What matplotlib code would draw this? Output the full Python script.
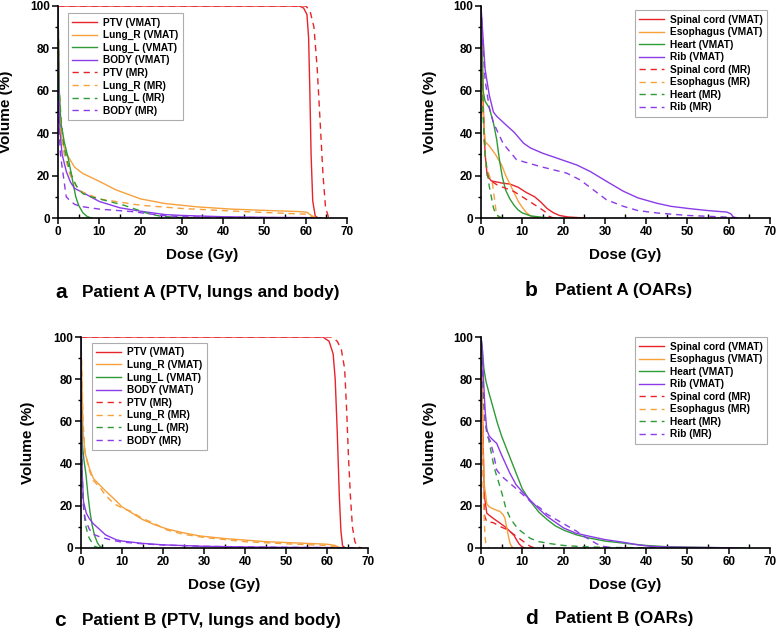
import numpy as np
import matplotlib
matplotlib.use('Agg')
import matplotlib.pyplot as plt
from matplotlib.ticker import MultipleLocator

plt.rcParams['font.family'] = ['Liberation Sans', 'DejaVu Sans']
plt.rcParams['font.weight'] = 'bold'

RED = '#E8232A'
ORANGE = '#F7A03C'
GREEN = '#2E9B37'
PURPLE = '#8B3BE8'

# ---- Patient A, PTV / lungs / body  (dose Gy, volume %)
a_ptv_vmat_d = [0, 58.5, 59.5, 60.3, 60.7, 61, 61.3, 61.7, 62.3, 63]
a_ptv_vmat_v = [100, 100, 99, 96, 85, 60, 30, 8, 1, 0]
a_ptv_mr_d = [0, 60, 61, 62, 62.8, 63.5, 64.2, 64.8, 65.5, 66]
a_ptv_mr_v = [100, 100, 98, 90, 70, 45, 20, 5, 0.5, 0]
a_lungr_vmat_d = [0, 0.3, 0.6, 1, 2, 4, 6, 10, 14, 20, 26, 34, 42, 50, 58.7, 60.3, 61.5, 62.7]
a_lungr_vmat_v = [100, 60, 45, 36, 30.5, 24, 21, 17.3, 13.3, 9, 6.8, 5.2, 4.2, 3.6, 3, 2.7, 1, 0]
a_lungr_mr_d = [0, 0.3, 0.7, 1.5, 3, 5, 10, 15, 20, 30, 40, 50, 60, 62, 63]
a_lungr_mr_v = [100, 60, 42, 30, 20, 13, 9, 7.5, 6, 4.5, 3.5, 2.6, 1.8, 0.3, 0]
a_lungl_vmat_d = [0, 0.3, 0.7, 1.5, 2.5, 3.5, 4.3, 5, 6, 7, 8]
a_lungl_vmat_v = [100, 60, 45, 36, 28, 18, 10, 6, 2.5, 0.8, 0]
a_lungl_mr_d = [0, 0.3, 0.8, 1.5, 2.5, 3.5, 4.5, 6, 8, 10, 13, 16, 19, 22, 25, 30, 35]
a_lungl_mr_v = [100, 60, 45, 33, 25, 19, 15, 11.5, 10, 9, 7.5, 6, 4, 2, 0.8, 0.2, 0]
a_body_vmat_d = [0, 0.2, 0.5, 1, 2, 3, 4, 6, 10, 15, 20, 26, 30, 40, 50, 60, 63]
a_body_vmat_v = [100, 60, 40, 30, 22, 17, 14, 12, 7.8, 4.8, 3.2, 1.6, 1.2, 0.6, 0.3, 0.2, 0]
a_body_mr_d = [0, 0.1, 0.3, 0.6, 1, 2, 3, 4, 5.3, 10, 18, 22, 25, 30, 40, 60, 65]
a_body_mr_v = [100, 60, 40, 30, 24, 10, 8, 6.5, 5.5, 4.2, 3, 2, 1.2, 0.6, 0.3, 0.1, 0]

# ---- Patient A, OARs
a_cord_vmat_d = [0, 0.3, 0.6, 1, 1.5, 2.5, 5, 7, 9, 11, 13, 14.5, 16, 17.5, 19, 21, 25]
a_cord_vmat_v = [100, 80, 50, 30, 20, 17.5, 16.5, 16, 14.5, 12, 10, 7.5, 4.5, 2.5, 1.2, 0.5, 0]
a_cord_mr_d = [0, 0.3, 0.7, 1.2, 2, 4, 6, 8, 10, 12, 14, 15.5, 16.5, 17.5]
a_cord_mr_v = [100, 70, 40, 25, 18, 15.5, 14, 12.5, 10, 7.5, 5, 3, 0.8, 0]
a_eso_vmat_d = [0, 0.2, 0.5, 1, 2, 3.5, 5, 6, 7, 8, 9, 10, 11, 12, 13, 14]
a_eso_vmat_v = [100, 80, 50, 36, 34, 30, 25, 20, 16, 12, 8, 5, 2.5, 1, 0.3, 0]
a_eso_mr_d = [0, 0.3, 0.7, 1.2, 2, 2.8, 3.2, 3.6, 4, 4.5]
a_eso_mr_v = [100, 70, 40, 25, 20, 16, 10, 4, 1, 0]
a_heart_vmat_d = [0, 0.2, 0.5, 1, 2, 3, 3.8, 4.5, 5.2, 6, 7, 8, 9, 10, 12, 15, 18]
a_heart_vmat_v = [100, 80, 60, 55, 52, 45, 37, 27, 19, 13, 9, 6, 3.8, 2.4, 1, 0.3, 0]
a_heart_mr_d = [0, 0.3, 0.6, 1, 1.5, 2, 2.5, 3, 3.5, 4.5, 5.5]
a_heart_mr_v = [100, 70, 45, 30, 22, 15, 10, 5, 2, 0.5, 0]
a_rib_vmat_d = [0, 0.5, 1, 2, 3, 3.8, 6, 8, 10.3, 12, 15, 18.3, 23.2, 26.4, 30.4, 34.5, 38,
                42.5, 46, 50.6, 55, 59.5, 60.5, 61.1, 62]
a_rib_vmat_v = [100, 85, 70, 58, 50, 48, 44, 40.5, 35.3, 33, 30.5, 28.3, 25, 22, 17.3, 12.6, 9.5,
                7, 5.5, 4.4, 3.5, 2.8, 2, 0.5, 0]
a_rib_mr_d = [0, 0.5, 1, 2, 3, 3.8, 5.4, 8.6, 14.3, 20.7, 24, 27.2, 30.4, 34.5, 38, 42.5, 50, 58.7, 63]
a_rib_mr_v = [100, 80, 65, 52, 45, 41.6, 35, 27.5, 24.3, 21.2, 18, 13.3, 8.6, 5.5, 3.5, 2.4, 1.2, 0.5, 0]

# ---- Patient B, PTV / lungs / body
b_ptv_vmat_d = [0, 59, 60.5, 61.5, 62, 62.5, 63, 63.4, 63.8, 64.5]
b_ptv_vmat_v = [100, 100, 98, 92, 80, 55, 25, 8, 1, 0]
b_ptv_mr_d = [0, 61, 62.5, 63.5, 64.3, 64.8, 65.2, 65.7, 66.2, 66.8, 67.5, 68.5]
b_ptv_mr_v = [100, 100, 98, 94, 85, 65, 45, 25, 10, 3, 0.5, 0]
b_lungr_vmat_d = [0, 0.2, 0.5, 1, 2, 3, 4.5, 6, 8.5, 10, 12.5, 15, 18, 21, 25, 29, 35, 45, 55,
                  60, 62, 63, 64]
b_lungr_vmat_v = [100, 80, 55, 45, 38, 33, 30, 27, 22.5, 19.5, 16.5, 13.5, 11, 9, 7.2, 5.7, 4.5,
                  3, 2.2, 1.8, 1.2, 0.3, 0]
b_lungr_mr_d = [0, 0.2, 0.5, 1, 2, 3, 4.5, 6, 8, 10, 12, 15, 18, 21, 25, 30, 40, 50, 60, 62, 63]
b_lungr_mr_v = [100, 85, 60, 45, 37, 32, 29, 25, 21, 19, 17.5, 14, 11.5, 8.5, 6.5, 5, 3, 2, 1.2, 0.5, 0]
b_lungl_vmat_d = [0, 0.1, 0.3, 0.7, 1.2, 1.7, 2.2, 2.7, 3.3, 4, 4.6, 5.5]
b_lungl_vmat_v = [100, 70, 50, 42, 35, 25, 17, 11, 6, 2.5, 0.8, 0]
b_lungl_mr_d = [0, 0.1, 0.3, 0.6, 1, 1.7, 2.2, 2.7, 3.3, 4, 5]
b_lungl_mr_v = [100, 60, 35, 20, 12, 6, 4, 2.5, 0.8, 0.3, 0]
b_body_vmat_d = [0, 0.1, 0.3, 0.6, 1.3, 2, 3, 4.6, 6, 8.6, 10, 15, 20, 30, 40, 50, 60, 64]
b_body_vmat_v = [100, 60, 35, 22, 16.5, 14, 11.5, 8.7, 6.2, 3.9, 3.3, 2.2, 1.5, 0.8, 0.5, 0.3, 0.2, 0]
b_body_mr_d = [0, 0.1, 0.3, 0.7, 1, 2, 3, 5, 8, 10, 15, 20, 30, 40, 50, 60, 67]
b_body_mr_v = [100, 50, 28, 18, 14, 9, 6.5, 5, 3.5, 2.8, 2, 1.4, 0.8, 0.5, 0.3, 0.2, 0]

# ---- Patient B, OARs
b_cord_vmat_d = [0, 0.2, 0.5, 0.8, 1.4, 2, 3, 4.6, 6, 7, 8, 8.6, 9.2, 9.8, 10.5]
b_cord_vmat_v = [100, 80, 50, 25, 16.5, 15.5, 14, 11.8, 9.8, 7.9, 6, 3.9, 2, 0.8, 0]
b_cord_mr_d = [0, 0.3, 0.6, 0.9, 1.4, 3, 4.6, 6, 7, 8.6, 10, 11.9, 13]
b_cord_mr_v = [100, 70, 30, 15, 12.5, 12, 10.2, 9, 7.8, 5.5, 3.5, 0.8, 0]
b_eso_vmat_d = [0, 0.2, 0.5, 0.8, 1.4, 2, 3, 4.6, 5.4, 5.8, 6.2, 6.6, 7, 7.4, 7.8]
b_eso_vmat_v = [100, 80, 50, 30, 21, 19.5, 18.5, 17.3, 15.7, 14, 10, 6, 2.4, 0.8, 0]
b_eso_mr_d = [0, 0.2, 0.4, 0.6, 0.8, 1, 1.2, 1.5, 2]
b_eso_mr_v = [100, 80, 50, 25, 12, 5, 1.5, 0.5, 0]
b_heart_vmat_d = [0, 0.3, 0.7, 1.2, 2, 3, 4, 5, 6, 7, 8, 9, 10, 11, 12, 14, 16, 18, 20, 23, 26,
                  30, 35, 40, 45, 50, 60, 64]
b_heart_vmat_v = [100, 95, 85, 79, 73, 66, 59, 53, 48, 43, 38, 33, 28, 25, 22, 17, 13.5, 10.5,
                  8.5, 6.3, 4.8, 3.3, 2.2, 1.2, 0.6, 0.4, 0.1, 0]
b_heart_mr_d = [0, 0.3, 0.6, 1, 1.5, 2, 2.5, 3, 3.5, 4, 4.6, 5.2, 6, 7, 8, 9, 10, 12, 14, 17, 20,
                25, 30, 40, 45]
b_heart_mr_v = [100, 85, 70, 60, 55, 50, 45, 40, 36, 33, 29, 25, 19, 14.5, 11.5, 9, 7.5, 4.5, 3,
                2, 1.2, 0.6, 0.3, 0.1, 0]
b_rib_vmat_d = [0, 0.3, 0.6, 1, 1.4, 2, 3, 3.8, 5, 7, 8.5, 10.3, 12, 14.3, 16, 18.3, 20, 23, 26.4,
                30, 34.5, 38, 41, 45, 50, 60, 62]
b_rib_vmat_v = [100, 95, 80, 65, 56, 53, 51, 49.6, 44, 35.4, 30, 26, 22.5, 18, 15, 11.8, 9.5, 7,
                5.5, 4, 2.7, 1.5, 0.8, 0.5, 0.3, 0.1, 0]
b_rib_mr_d = [0, 0.3, 0.6, 1, 1.5, 2.2, 3, 3.8, 5, 6.2, 8.6, 10, 12, 14.3, 16, 18.3, 20, 23.2,
              24.5, 26.4, 28, 29.6, 32]
b_rib_mr_v = [100, 90, 75, 60, 53, 51, 45, 37, 34, 32, 28, 25.5, 22, 19, 16, 13.4, 11.5, 7.9,
              6, 3.9, 2, 0.8, 0]

panels = [
    dict(rect=(58, 6, 347, 218), loc='upper left', anchor=(0.034, 0.967),
         letter='a', title='Patient A (PTV, lungs and body)', cap=(55, 82, 292),
         ylab_x=13,
         curves=[('PTV (VMAT)', a_ptv_vmat_d, a_ptv_vmat_v, RED, '-'),
                 ('Lung_R (VMAT)', a_lungr_vmat_d, a_lungr_vmat_v, ORANGE, '-'),
                 ('Lung_L (VMAT)', a_lungl_vmat_d, a_lungl_vmat_v, GREEN, '-'),
                 ('BODY (VMAT)', a_body_vmat_d, a_body_vmat_v, PURPLE, '-'),
                 ('PTV (MR)', a_ptv_mr_d, a_ptv_mr_v, RED, '--'),
                 ('Lung_R (MR)', a_lungr_mr_d, a_lungr_mr_v, ORANGE, '--'),
                 ('Lung_L (MR)', a_lungl_mr_d, a_lungl_mr_v, GREEN, '--'),
                 ('BODY (MR)', a_body_mr_d, a_body_mr_v, PURPLE, '--')]),
    dict(rect=(481, 6, 770, 218), loc='upper right', anchor=(0.99, 0.981),
         letter='b', title='Patient A (OARs)', cap=(525, 555, 290),
         ylab_x=437,
         curves=[('Spinal cord (VMAT)', a_cord_vmat_d, a_cord_vmat_v, RED, '-'),
                 ('Esophagus (VMAT)', a_eso_vmat_d, a_eso_vmat_v, ORANGE, '-'),
                 ('Heart (VMAT)', a_heart_vmat_d, a_heart_vmat_v, GREEN, '-'),
                 ('Rib (VMAT)', a_rib_vmat_d, a_rib_vmat_v, PURPLE, '-'),
                 ('Spinal cord (MR)', a_cord_mr_d, a_cord_mr_v, RED, '--'),
                 ('Esophagus (MR)', a_eso_mr_d, a_eso_mr_v, ORANGE, '--'),
                 ('Heart (MR)', a_heart_mr_d, a_heart_mr_v, GREEN, '--'),
                 ('Rib (MR)', a_rib_mr_d, a_rib_mr_v, PURPLE, '--')]),
    dict(rect=(81, 337, 368, 548), loc='upper left', anchor=(0.038, 0.972),
         letter='c', title='Patient B (PTV, lungs and body)', cap=(54, 82, 620),
         ylab_x=35,
         curves=[('PTV (VMAT)', b_ptv_vmat_d, b_ptv_vmat_v, RED, '-'),
                 ('Lung_R (VMAT)', b_lungr_vmat_d, b_lungr_vmat_v, ORANGE, '-'),
                 ('Lung_L (VMAT)', b_lungl_vmat_d, b_lungl_vmat_v, GREEN, '-'),
                 ('BODY (VMAT)', b_body_vmat_d, b_body_vmat_v, PURPLE, '-'),
                 ('PTV (MR)', b_ptv_mr_d, b_ptv_mr_v, RED, '--'),
                 ('Lung_R (MR)', b_lungr_mr_d, b_lungr_mr_v, ORANGE, '--'),
                 ('Lung_L (MR)', b_lungl_mr_d, b_lungl_mr_v, GREEN, '--'),
                 ('BODY (MR)', b_body_mr_d, b_body_mr_v, PURPLE, '--')]),
    dict(rect=(481, 337, 770, 548), loc='upper right', anchor=(0.99, 1.0),
         letter='d', title='Patient B (OARs)', cap=(525, 555, 618),
         ylab_x=437,
         curves=[('Spinal cord (VMAT)', b_cord_vmat_d, b_cord_vmat_v, RED, '-'),
                 ('Esophagus (VMAT)', b_eso_vmat_d, b_eso_vmat_v, ORANGE, '-'),
                 ('Heart (VMAT)', b_heart_vmat_d, b_heart_vmat_v, GREEN, '-'),
                 ('Rib (VMAT)', b_rib_vmat_d, b_rib_vmat_v, PURPLE, '-'),
                 ('Spinal cord (MR)', b_cord_mr_d, b_cord_mr_v, RED, '--'),
                 ('Esophagus (MR)', b_eso_mr_d, b_eso_mr_v, ORANGE, '--'),
                 ('Heart (MR)', b_heart_mr_d, b_heart_mr_v, GREEN, '--'),
                 ('Rib (MR)', b_rib_mr_d, b_rib_mr_v, PURPLE, '--')]),
]

W, H = 778, 629
fig = plt.figure(figsize=(W / 100, H / 100), dpi=100)

for p in panels:
    l, t, r, b = p['rect']
    ax = fig.add_axes([l / W, 1 - b / H, (r - l) / W, (b - t) / H])
    for name, d, v, col, ls in p['curves']:
        if ls == '-':
            ax.plot(d, v, color=col, lw=1.0, label=name)
        else:
            ax.plot(d, v, color=col, lw=1.0, ls=(0, (4.5, 3.5)), label=name)
    ax.set_xlim(0, 70)
    ax.set_ylim(0, 100)
    ax.xaxis.set_major_locator(MultipleLocator(10))
    ax.xaxis.set_minor_locator(MultipleLocator(5))
    ax.yaxis.set_major_locator(MultipleLocator(20))
    ax.yaxis.set_minor_locator(MultipleLocator(10))
    for s in ['top', 'right']:
        ax.spines[s].set_visible(False)
    for s in ['left', 'bottom']:
        ax.spines[s].set_linewidth(1.2)
    ax.tick_params(which='major', direction='out', length=4, width=1.1, labelsize=8.5, pad=2)
    ax.tick_params(axis='x', which='minor', direction='in', length=3, width=1.0)
    ax.tick_params(axis='y', which='minor', direction='out', length=2.5, width=1.0)
    for lab in ax.get_xticklabels() + ax.get_yticklabels():
        lab.set_fontweight('bold')
    ax.set_xlabel('Dose (Gy)', fontsize=11, fontweight='bold', labelpad=7)
    ax.set_ylabel('Volume (%)', fontsize=11, fontweight='bold')
    ax.yaxis.set_label_coords((p['ylab_x'] - l) / (r - l), 0.5)
    leg = ax.legend(loc=p['loc'], bbox_to_anchor=p['anchor'],
                    prop={'weight': 'bold', 'size': 7.3}, frameon=True, fancybox=False,
                    edgecolor='#999999', handlelength=2.4, handletextpad=0.6,
                    labelspacing=0.25, borderpad=0.45, borderaxespad=0)
    leg.get_frame().set_linewidth(0.8)
    lx, tx, cy = p['cap']
    fig.text(lx / W, 1 - cy / H, p['letter'], fontsize=15, fontweight='bold',
             ha='left', va='center')
    fig.text(tx / W, 1 - cy / H, p['title'], fontsize=12.3, fontweight='bold',
             ha='left', va='center')

fig.savefig('out.png', dpi=100)
